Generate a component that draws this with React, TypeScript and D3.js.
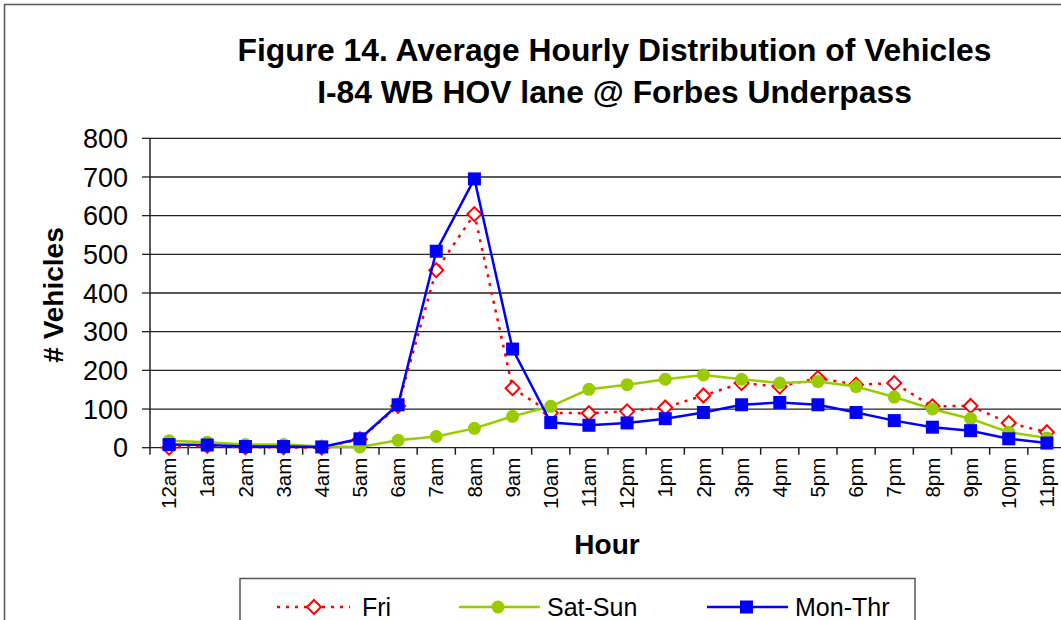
import React from "react";
import * as d3 from "d3";

const hours = ["12am","1am","2am","3am","4am","5am","6am","7am","8am","9am","10am","11am","12pm","1pm","2pm","3pm","4pm","5pm","6pm","7pm","8pm","9pm","10pm","11pm"];
const fri = [0,5,1,1,0,22,108,459,604,154,90,89,94,104,135,167,158,180,163,167,107,108,64,40];
const satSun = [18,14,8,8,3,2,19,29,50,81,107,151,163,177,188,177,167,171,158,131,100,75,40,25];
const monThr = [8,7,3,3,2,23,111,508,695,255,65,58,64,75,91,111,117,111,91,70,53,44,23,12];
const yTicks = [0,100,200,300,400,500,600,700,800];

const W = 1061, H = 620;
const plotLeft = 150, plotRight = 1066, plotTop = 138.3, plotBottom = 447.7;
const font = "'Liberation Sans', Arial, sans-serif";

export default function App() {
  const x = d3.scaleBand<string>().domain(hours).range([plotLeft, plotRight]);
  const y = d3.scaleLinear().domain([0, 800]).range([plotBottom, plotTop]);
  const cx = (i: number) => (x(hours[i]) as number) + x.bandwidth() / 2;
  const line = d3.line<number>().x((_, i) => cx(i)).y(d => y(d));

  const diamond = (px: number, py: number, s: number) =>
    `M${px},${py - s}L${px + s},${py}L${px},${py + s}L${px - s},${py}Z`;

  return (
    <svg width={W} height={H} style={{ position: "absolute", left: 0, top: 0, background: "#fff" }} fontFamily={font}>
      <rect x={4.5} y={4.5} width={W + 20} height={H + 20} fill="#fff" stroke="#555" strokeWidth={1.5} />
      <text x={614.5} y={61} textAnchor="middle" fontSize={31.8} fontWeight="bold">Figure 14. Average Hourly Distribution of Vehicles</text>
      <text x={614.5} y={103} textAnchor="middle" fontSize={31.8} fontWeight="bold">I-84 WB HOV lane @ Forbes Underpass</text>

      {yTicks.map(t => (
        <g key={t}>
          <line x1={plotLeft} x2={plotRight} y1={y(t)} y2={y(t)} stroke="#222" strokeWidth={1.3} />
          <line x1={plotLeft - 8} x2={plotLeft} y1={y(t)} y2={y(t)} stroke="#222" strokeWidth={1.3} />
          <text x={128} y={y(t)} dy="0.36em" textAnchor="end" fontSize={27}>{t}</text>
        </g>
      ))}
      <line x1={plotLeft} x2={plotLeft} y1={plotTop} y2={plotBottom} stroke="#222" strokeWidth={1.5} />
      {hours.map((h, i) => (
        <g key={h}>
          <line x1={(x(h) as number) + x.bandwidth()} x2={(x(h) as number) + x.bandwidth()} y1={plotBottom} y2={plotBottom + 7} stroke="#222" strokeWidth={1.5} />
          <text transform={`translate(${cx(i)},${plotBottom + 10}) rotate(-90)`} textAnchor="end" dy="0.35em" fontSize={20.5}>{h}</text>
        </g>
      ))}
      <line x1={plotLeft} x2={plotLeft} y1={plotBottom} y2={plotBottom + 7} stroke="#222" strokeWidth={1.5} />

      <text transform={`translate(63,295) rotate(-90)`} textAnchor="middle" fontSize={28} fontWeight="bold">{"# Vehicles"}</text>
      <text x={607} y={554} textAnchor="middle" fontSize={28} fontWeight="bold">Hour</text>

      {/* Fri */}
      <path d={line(fri) as string} fill="none" stroke="#ff0000" strokeWidth={2.5} strokeDasharray="3,6" />
      {fri.map((v, i) => (
        <path key={i} d={diamond(cx(i), y(v), 7)} fill="#fff" stroke="#ff0000" strokeWidth={2} />
      ))}
      {/* Sat-Sun */}
      <path d={line(satSun) as string} fill="none" stroke="#99cc00" strokeWidth={2.5} />
      {satSun.map((v, i) => (
        <circle key={i} cx={cx(i)} cy={y(v)} r={6.5} fill="#99cc00" />
      ))}
      {/* Mon-Thr */}
      <path d={line(monThr) as string} fill="none" stroke="#0000ff" strokeWidth={2.5} />
      {monThr.map((v, i) => (
        <rect key={i} x={cx(i) - 6.5} y={y(v) - 6.5} width={13} height={13} fill="#0000ff" />
      ))}

      {/* Legend */}
      <rect x={240} y={578.5} width={675} height={60} fill="#fff" stroke="#555" strokeWidth={1.5} />
      <line x1={277} x2={350} y1={607} y2={607} stroke="#ff0000" strokeWidth={2.5} strokeDasharray="3,6" />
      <path d={diamond(314, 607, 7)} fill="#fff" stroke="#ff0000" strokeWidth={2} />
      <text x={362} y={607} dy="0.36em" fontSize={25}>Fri</text>
      <line x1={459} x2={540} y1={607} y2={607} stroke="#99cc00" strokeWidth={2.5} />
      <circle cx={498} cy={607} r={6.5} fill="#99cc00" />
      <text x={547} y={607} dy="0.36em" fontSize={25}>Sat-Sun</text>
      <line x1={707} x2={788} y1={607} y2={607} stroke="#0000ff" strokeWidth={2.5} />
      <rect x={740} y={600.5} width={13} height={13} fill="#0000ff" />
      <text x={795} y={607} dy="0.36em" fontSize={25}>Mon-Thr</text>
    </svg>
  );
}
